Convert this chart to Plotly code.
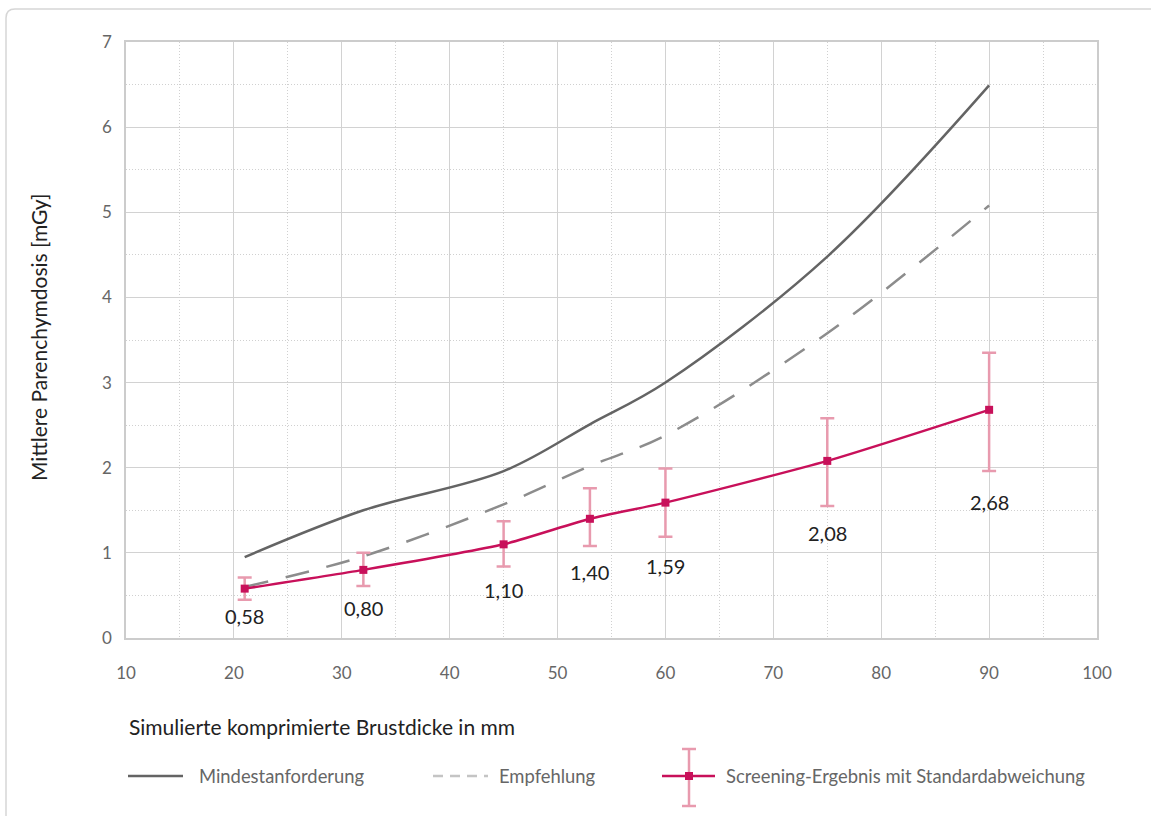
import plotly.graph_objects as go

# ---------------- data ----------------
thickness = [21, 32, 45, 53, 60, 75, 90]                      # simulated compressed breast thickness (mm)
mindestanforderung = [0.95, 1.50, 1.96, 2.51, 3.00, 4.48, 6.49]
empfehlung = [0.60, 0.96, 1.57, 2.02, 2.38, 3.58, 5.08]
screening = [0.58, 0.80, 1.10, 1.40, 1.59, 2.08, 2.68]
screening_upper = [0.71, 1.00, 1.37, 1.76, 1.99, 2.58, 3.35]
screening_lower = [0.45, 0.61, 0.84, 1.08, 1.19, 1.55, 1.96]
screening_labels = ["0,58", "0,80", "1,10", "1,40", "1,59", "2,08", "2,68"]

x_ticks = [10, 20, 30, 40, 50, 60, 70, 80, 90, 100]
y_ticks = [0, 1, 2, 3, 4, 5, 6, 7]

legend_names = ["Mindestanforderung", "Empfehlung", "Screening-Ergebnis mit Standardabweichung"]
x_title = "Simulierte komprimierte Brustdicke in mm"
y_title = "Mittlere Parenchymdosis [mGy]"

# ---------------- layout constants (pixels) ----------------
W_FIG, H_FIG = 1151, 816
L, R, T, B = 126, 54, 42, 178
PW = W_FIG - L - R
PH = H_FIG - T - B
FONT = "Lato"
C_SOLID = "#646464"
C_DASH = "#8c8c8c"
C_SCREEN = "#c8105a"
C_ERR = "#e89aae"


def px(xp):
    return (xp - L) / PW


def py(yp):
    return (H_FIG - B - yp) / PH


err_plus = [u - v for u, v in zip(screening_upper, screening)]
err_minus = [v - lo for v, lo in zip(screening, screening_lower)]

fig = go.Figure()
fig.add_trace(go.Scatter(
    x=thickness, y=mindestanforderung, mode="lines", name=legend_names[0],
    line=dict(color=C_SOLID, width=2.5, shape="spline", smoothing=1.0),
    showlegend=False, hoverinfo="x+y"))
fig.add_trace(go.Scatter(
    x=thickness, y=empfehlung, mode="lines", name=legend_names[1],
    line=dict(color=C_DASH, width=2.5, dash="24px,18px", shape="spline", smoothing=1.0),
    showlegend=False, hoverinfo="x+y"))
fig.add_trace(go.Scatter(
    x=thickness, y=screening, mode="lines+markers", name=legend_names[2],
    line=dict(color=C_SCREEN, width=2.5, shape="spline", smoothing=0.6),
    marker=dict(symbol="square", size=8, color=C_SCREEN),
    error_y=dict(type="data", symmetric=False, array=err_plus, arrayminus=err_minus,
                 color=C_ERR, thickness=2.5, width=7),
    showlegend=False, hoverinfo="x+y"))

# value labels below the error bars
label_offsets = [16, 22, 24, 26, 29, 27, 31]
annotations = []
for xv, lo, txt, off in zip(thickness, screening_lower, screening_labels, label_offsets):
    annotations.append(dict(x=xv, y=lo, xref="x", yref="y", text=txt, showarrow=False,
                            yshift=-off, xanchor="center", yanchor="middle",
                            font=dict(family=FONT, size=20, color="#222222")))

# axis titles
annotations.append(dict(x=px(38), y=py(337), xref="paper", yref="paper", text=y_title,
                        textangle=-90, showarrow=False, xanchor="center", yanchor="middle",
                        font=dict(family=FONT, size=21, color="#222222")))
annotations.append(dict(x=px(127), y=py(726), xref="paper", yref="paper", text=x_title,
                        showarrow=False, xanchor="left", yanchor="middle",
                        font=dict(family=FONT, size=21, color="#222222")))

# manual legend
LEG_Y = 776
leg_text_x = [197, 497, 724]
for tx, name in zip(leg_text_x, legend_names):
    annotations.append(dict(x=px(tx), y=py(LEG_Y), xref="paper", yref="paper", text=name,
                            showarrow=False, xanchor="left", yanchor="middle",
                            font=dict(family=FONT, size=18.4, color="#666666")))

shapes = []
# card border with rounded corners (pixel-sized path anchored at paper origin top-left)
rad = 9
x0b, y0b, x1b, y1b = 6 - L, T - 9, 1165 - L, T - 835
path = (f"M{x0b},{y1b} L{x0b},{y0b - rad} Q{x0b},{y0b} {x0b + rad},{y0b} "
        f"L{x1b - rad},{y0b} Q{x1b},{y0b} {x1b},{y0b - rad} L{x1b},{y1b} Z")
shapes.append(dict(type="path", xref="paper", yref="paper", xsizemode="pixel", ysizemode="pixel",
                   xanchor=0, yanchor=1, path=path, line=dict(color="#d6d6d6", width=1.5),
                   fillcolor="rgba(0,0,0,0)", layer="below"))

# legend symbols
shapes.append(dict(type="line", xref="paper", yref="paper", x0=px(128), x1=px(183),
                   y0=py(LEG_Y), y1=py(LEG_Y), line=dict(color=C_SOLID, width=2.5)))
shapes.append(dict(type="line", xref="paper", yref="paper", x0=px(433), x1=px(488),
                   y0=py(LEG_Y), y1=py(LEG_Y), line=dict(color="#c4c4c4", width=2.5, dash="10px,7px")))
shapes.append(dict(type="line", xref="paper", yref="paper", x0=px(689), x1=px(689),
                   y0=py(749), y1=py(806), line=dict(color=C_ERR, width=2.5)))
for cy in (749, 806):
    shapes.append(dict(type="line", xref="paper", yref="paper", x0=px(682), x1=px(696),
                       y0=py(cy), y1=py(cy), line=dict(color=C_ERR, width=2.5)))
shapes.append(dict(type="line", xref="paper", yref="paper", x0=px(662), x1=px(715),
                   y0=py(LEG_Y), y1=py(LEG_Y), line=dict(color=C_SCREEN, width=2.5)))
shapes.append(dict(type="rect", xref="paper", yref="paper", x0=px(685), x1=px(693),
                   y0=py(LEG_Y + 4), y1=py(LEG_Y - 4), line=dict(width=0), fillcolor=C_SCREEN))

axis_common = dict(showline=True, linecolor="#cccccc", linewidth=1.5, mirror=True,
                   showgrid=True, gridcolor="#d2d2d2", gridwidth=1.3, zeroline=False,
                   ticks="", tickfont=dict(family=FONT, size=17, color="#666666"))

fig.update_layout(
    width=W_FIG, height=H_FIG,
    margin=dict(l=L, r=R, t=T, b=B, autoexpand=False),
    paper_bgcolor="white", plot_bgcolor="white",
    font=dict(family=FONT),
    xaxis=dict(range=[10, 100], tickvals=x_ticks, ticktext=[str(v) for v in x_ticks],
               ticklabelstandoff=19,
               minor=dict(dtick=5, showgrid=True, gridcolor="#d0d0d0", griddash="1px,2px", gridwidth=1),
               **axis_common),
    yaxis=dict(range=[0, 7], tickvals=y_ticks, ticktext=[str(v) for v in y_ticks],
               ticklabelstandoff=9,
               minor=dict(dtick=0.5, showgrid=True, gridcolor="#d0d0d0", griddash="1px,2px", gridwidth=1),
               **axis_common),
    annotations=annotations,
    shapes=shapes,
    showlegend=False,
)

fig.write_html("out.html")
